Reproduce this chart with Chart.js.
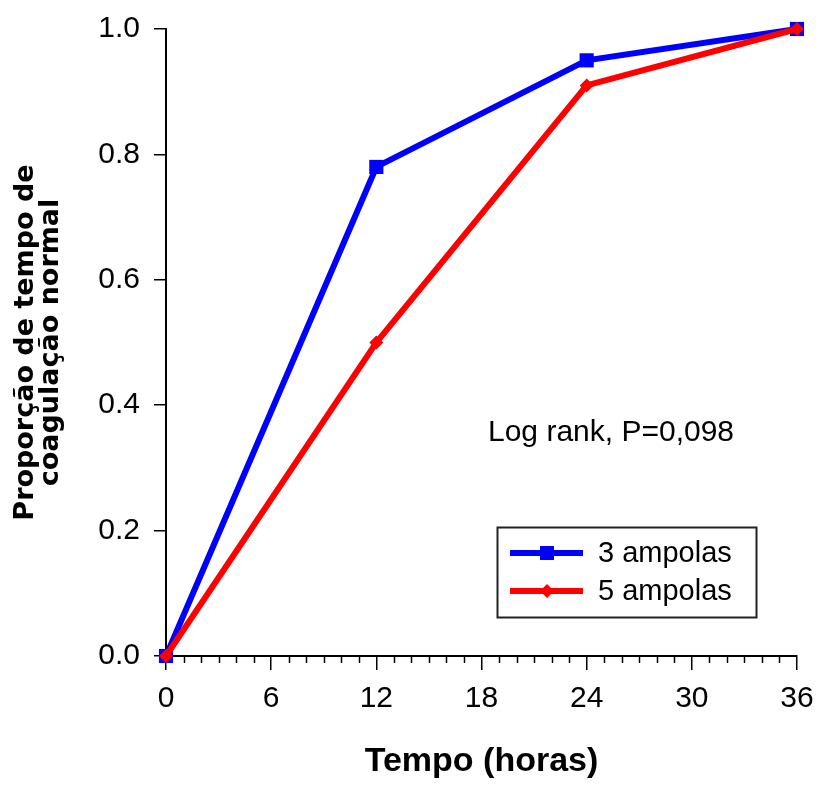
<!DOCTYPE html>
<html>
<head>
<meta charset="utf-8">
<script src="https://cdn.jsdelivr.net/npm/chart.js@4.4.0/dist/chart.umd.min.js"></script>
<style>
  html, body { margin: 0; padding: 0; background: #fff; }
  #wrap { width: 820px; height: 785px; }
</style>
</head>
<body>
<div id="wrap"><canvas id="graph"></canvas></div>
<script>
const horas = [0, 12, 24, 36];
const ampolas3 = [0, 0.78, 0.95, 1.0];
const ampolas5 = [0, 0.5, 0.91, 1.0];
const serieNomes = ["3 ampolas", "5 ampolas"];
const xTitulo = "Tempo (horas)";
const yTitulo = ["Proporção de tempo de", "coagulação normal"];
const anotacao = "Log rank, P=0,098";

const ctx = document.getElementById("graph").getContext("2d");
const fonte = "'Liberation Sans', Arial, sans-serif";

const toPoints = (vals) => horas.map((h, i) => ({ x: h, y: vals[i] }));

// pequenos ticks de 1 em 1 hora no eixo x
const minorTicks = {
  id: "minorTicks",
  afterDraw: (chart) => {
    const x = chart.scales.x;
    const c = chart.ctx;
    c.save();
    c.strokeStyle = "#000";
    c.lineWidth = 1.5;
    for (let h = x.min; h <= x.max; h++) {
      if (h % 6 === 0) continue;
      const px = Math.round(x.getPixelForValue(h)) + 0.5;
      c.beginPath();
      c.moveTo(px, x.top);
      c.lineTo(px, x.top + 7);
      c.stroke();
    }
    c.restore();
  },
};

// texto "Log rank" e legenda com caixa
const extras = {
  id: "extras",
  afterDraw: (chart) => {
    const c = chart.ctx;
    c.save();
    c.fillStyle = "#000";
    c.font = "30px " + fonte;
    c.textAlign = "left";
    c.textBaseline = "middle";
    c.fillText(anotacao, 488, 433);

    // caixa da legenda
    c.strokeStyle = "#222";
    c.lineWidth = 2;
    c.strokeRect(497.5, 527.5, 259, 90);

    chart.data.datasets.forEach((ds, i) => {
      const y = 553 + i * 38;
      c.strokeStyle = ds.borderColor;
      c.lineWidth = 6;
      c.beginPath();
      c.moveTo(510, y);
      c.lineTo(583, y);
      c.stroke();
      c.fillStyle = ds.borderColor;
      if (ds.pointStyle === "rect") {
        c.fillRect(540, y - 7, 14, 14);
      } else {
        c.beginPath();
        c.moveTo(547, y - 7);
        c.lineTo(554, y);
        c.lineTo(547, y + 7);
        c.lineTo(540, y);
        c.closePath();
        c.fill();
      }
      c.fillStyle = "#000";
      c.font = "29px " + fonte;
      c.fillText(ds.label, 598, y + 1);
    });
    c.restore();
  },
};

const chart = new Chart(ctx, {
  type: "line",
  data: {
    datasets: [
      {
        label: serieNomes[0],
        data: toPoints(ampolas3),
        borderColor: "#0000ff",
        backgroundColor: "#0000ff",
        borderWidth: 6,
        pointStyle: "rect",
        pointRadius: 10,
        pointBorderWidth: 0,
        clip: false,
        order: 1,
      },
      {
        label: serieNomes[1],
        data: toPoints(ampolas5),
        borderColor: "#ff0000",
        backgroundColor: "#ff0000",
        borderWidth: 6,
        pointStyle: "rectRot",
        pointRadius: 7,
        pointBorderWidth: 0,
        clip: false,
        order: 0,
      },
    ],
  },
  options: {
    responsive: true,
    maintainAspectRatio: false,
    devicePixelRatio: 1,
    animation: false,
    layout: { padding: { top: 29, right: 23, left: 0, bottom: 0 } },
    plugins: {
      legend: { display: false },
      tooltip: { enabled: false },
    },
    scales: {
      x: {
        type: "linear",
        min: 0,
        max: 36,
        ticks: {
          stepSize: 6,
          color: "#000",
          font: { family: fonte, size: 30 },
          padding: 11,
        },
        grid: { drawOnChartArea: false, tickLength: 14, color: "#000", lineWidth: 1.5 },
        border: { color: "#000", width: 2 },
        title: {
          display: true,
          text: xTitulo,
          color: "#000",
          font: { family: fonte, size: 34, weight: "bold" },
          padding: { top: 0, bottom: 3 },
        },
        afterFit: (scale) => {
          scale.height = 129;
          scale.paddingLeft = 0;
          scale.paddingRight = 0;
        },
      },
      y: {
        min: 0,
        max: 1,
        ticks: {
          stepSize: 0.2,
          color: "#000",
          font: { family: fonte, size: 30 },
          padding: 14,
          callback: (v) => v.toFixed(1),
        },
        grid: { drawOnChartArea: false, tickLength: 12, color: "#000", lineWidth: 1.5 },
        border: { color: "#000", width: 2 },
        title: {
          display: true,
          text: yTitulo,
          color: "#000",
          font: { family: "'DejaVu Sans', sans-serif", size: 27, weight: "bold", lineHeight: 0.95 },
          padding: { top: 13, bottom: 0 },
        },
        afterFit: (scale) => {
          scale.width = 166;
          scale.paddingTop = 0;
          scale.paddingBottom = 0;
        },
      },
    },
  },
  plugins: [minorTicks, extras],
});
</script>
</body>
</html>
